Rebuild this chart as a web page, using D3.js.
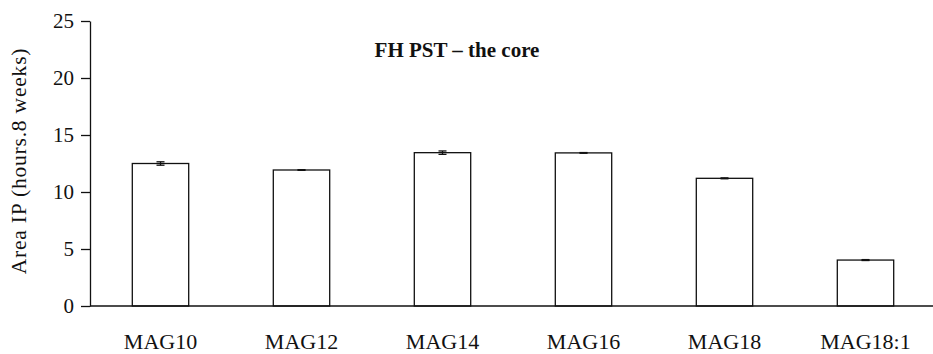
<!DOCTYPE html>
<html>
<head>
<meta charset="utf-8">
<script src="https://cdn.jsdelivr.net/npm/d3@7"></script>
<style>
  body { margin:0; background:#fff; }
</style>
</head>
<body>
<div id="canvas"></div>
<script>
// data
var categories = ["MAG10","MAG12","MAG14","MAG16","MAG18","MAG18:1"];
var means  = [12.5, 11.93, 13.45, 13.43, 11.2, 4.03];
var errors = [0.15, 0.03, 0.15, 0.03, 0.04, 0.04];
var yTicks = [0,5,10,15,20,25];

var FONT = "'Liberation Serif', 'Times New Roman', serif";
var W = 933, H = 354;
var m = {t:21, l:90, b:48};

var svg = d3.select('#canvas').append('svg')
    .attr('width',W).attr('height',H);

var x = d3.scaleBand().domain(categories)
    .range([m.l, m.l + 6*141])
    .paddingInner(0.6).paddingOuter(0.3);
var y = d3.scaleLinear().domain([0,25]).range([H - m.b, m.t]);

var rows = categories.map(function(c,i){ return {cat:c, v:means[i], e:errors[i]}; });

// bars
svg.selectAll('rect.bar').data(rows).enter()
    .append('rect').attr('class','bar')
    .attr('x', function(d){ return x(d.cat); })
    .attr('y', function(d){ return y(d.v); })
    .attr('width', x.bandwidth())
    .attr('height', function(d){ return y(0) - y(d.v); })
    .attr('fill','#fff').attr('stroke','#111').attr('stroke-width',1.3);

// error bars
var eb = svg.selectAll('g.err').data(rows).enter().append('g').attr('class','err')
    .attr('stroke','#111').attr('stroke-width',1.3);
eb.append('line')
    .attr('x1', function(d){ return x(d.cat) + x.bandwidth()/2; })
    .attr('x2', function(d){ return x(d.cat) + x.bandwidth()/2; })
    .attr('y1', function(d){ return y(d.v - d.e); })
    .attr('y2', function(d){ return y(d.v + d.e); });
eb.selectAll('line.cap').data(function(d){ return [d.v - d.e, d.v + d.e].map(function(v){ return {cat:d.cat, v:v}; }); })
    .enter().append('line').attr('class','cap')
    .attr('x1', function(d){ return x(d.cat) + x.bandwidth()/2 - 4; })
    .attr('x2', function(d){ return x(d.cat) + x.bandwidth()/2 + 4; })
    .attr('y1', function(d){ return y(d.v); })
    .attr('y2', function(d){ return y(d.v); });

// y axis
var yAxis = svg.append('g')
    .attr('transform','translate(' + m.l + ',0)')
    .call(d3.axisLeft(y).tickValues(yTicks).tickSize(9).tickSizeOuter(0).tickPadding(7));
yAxis.attr('font-family', null).attr('font-size', null);
yAxis.select('.domain').attr('stroke','#111').attr('stroke-width',1.3);
yAxis.selectAll('.tick line').attr('stroke','#111').attr('stroke-width',1.3);
yAxis.selectAll('.tick text')
    .style('font-family', FONT).style('font-size','21px').attr('fill','#111');

// x axis (baseline runs to the right edge)
svg.append('line')
    .attr('x1', m.l).attr('x2', W)
    .attr('y1', y(0)).attr('y2', y(0))
    .attr('stroke','#111').attr('stroke-width',1.3);

svg.selectAll('text.xlab').data(categories).enter()
    .append('text').attr('class','xlab')
    .attr('x', function(d){ return x(d) + x.bandwidth()/2; })
    .attr('y', 349)
    .attr('text-anchor','middle')
    .style('font-family', FONT).style('font-size','22px').attr('fill','#111')
    .text(function(d){ return d; });

// y label
svg.append('text')
    .attr('transform','translate(26,161) rotate(-90)')
    .attr('text-anchor','middle')
    .style('font-family', FONT).style('font-size','21.5px').style('letter-spacing','0.8px')
    .attr('fill','#111')
    .text('Area IP (hours.8 weeks)');

// title
svg.append('text')
    .attr('x', 457).attr('y', 57)
    .attr('text-anchor','middle')
    .style('font-family', FONT).style('font-size','21px').style('font-weight','bold')
    .attr('fill','#111')
    .text('FH PST – the core');
</script>
</body>
</html>
